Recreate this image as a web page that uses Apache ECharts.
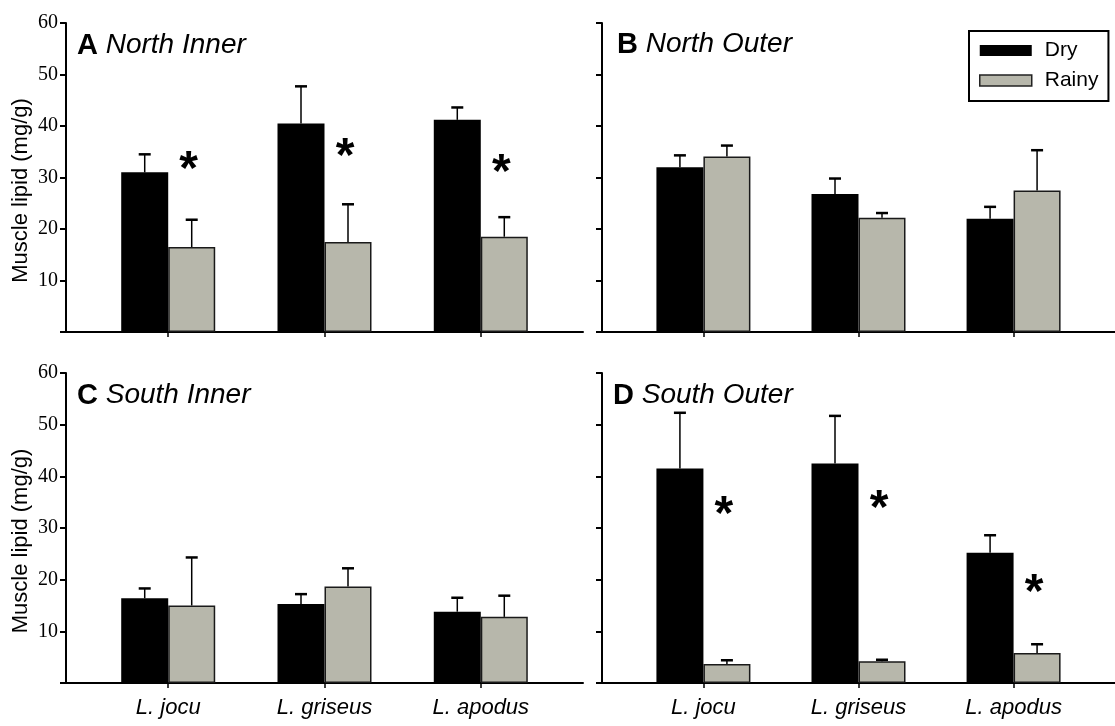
<!DOCTYPE html>
<html>
<head>
<meta charset="utf-8">
<script src="https://cdn.jsdelivr.net/npm/echarts@6/dist/echarts.min.js"></script>
<style>
html,body{margin:0;padding:0;background:#fff;}
#chart{width:1115px;height:726px;}
</style>
</head>
<body>
<div id="chart"></div>
<script>
// ---- data ----
const categories = ['L. jocu', 'L. griseus', 'L. apodus'];
const seriesNames = ['Dry', 'Rainy'];
const panelLetters = ['A', 'B', 'C', 'D'];
const panelNames = ['North Inner', 'North Outer', 'South Inner', 'South Outer'];
const yTicks = [0, 10, 20, 30, 40, 50, 60];
const yAxisName = 'Muscle lipid (mg/g)';

// means and upper standard errors (mg/g)
const dryMeanA = [31.0, 40.5, 41.2];
const dryErrA = [3.5, 7.2, 2.4];
const rainyMeanA = [16.5, 17.5, 18.5];
const rainyErrA = [5.3, 7.3, 3.8];

const dryMeanB = [32.0, 26.8, 22.0];
const dryErrB = [2.3, 3.0, 2.3];
const rainyMeanB = [34.1, 22.2, 27.5];
const rainyErrB = [2.1, 0.9, 7.8];

const dryMeanC = [16.4, 15.3, 13.8];
const dryErrC = [1.9, 1.9, 2.7];
const rainyMeanC = [15.0, 18.7, 12.8];
const rainyErrC = [9.3, 3.5, 4.1];

const dryMeanD = [41.5, 42.5, 25.2];
const dryErrD = [10.8, 9.2, 3.4];
const rainyMeanD = [3.7, 4.2, 5.8];
const rainyErrD = [0.7, 0.3, 1.7];

// significance asterisks: height (mg/g) at which the * is shown, null = none
const starA = [33.4, 35.9, 32.8];
const starB = [null, null, null];
const starC = [null, null, null];
const starD = [34.5, 35.6, 19.4];

// ---- layout / style constants ----
const BAR_W = 47;
const CAP_W = 12;
const X_PAD = 0.654;
const grids = [
  {left: 66, top: 23, width: 517, height: 309},
  {left: 602, top: 23, width: 517, height: 309},
  {left: 66, top: 373, width: 517, height: 310},
  {left: 602, top: 373, width: 517, height: 310}
];
const titlePos = [[77, 31], [617, 30], [77, 381], [613, 381]];
const RAINY_COLOR = '#b7b7ab';

const panels = [
  {dm: dryMeanA, de: dryErrA, rm: rainyMeanA, re: rainyErrA, st: starA},
  {dm: dryMeanB, de: dryErrB, rm: rainyMeanB, re: rainyErrB, st: starB},
  {dm: dryMeanC, de: dryErrC, rm: rainyMeanC, re: rainyErrC, st: starC},
  {dm: dryMeanD, de: dryErrD, rm: rainyMeanD, re: rainyErrD, st: starD}
];
const catIdx = categories.map((c, i) => i);

const chart = echarts.init(document.getElementById('chart'), null, {renderer: 'canvas'});

const xAxes = grids.map((g, i) => ({
  gridIndex: i, type: 'value', min: -X_PAD, max: categories.length - 1 + X_PAD,
  axisLine: {show: true, onZero: false, lineStyle: {color: '#000', width: 2}},
  axisTick: {show: true, length: 5, customValues: catIdx, lineStyle: {color: '#000', width: 1.5}},
  axisLabel: {show: i >= 2, customValues: catIdx, formatter: v => categories[Math.round(v)] || '',
    fontFamily: 'Liberation Sans', fontStyle: 'italic', fontSize: 22, color: '#000', margin: 14},
  splitLine: {show: false}
}));

const yAxes = grids.map((g, i) => ({
  gridIndex: i, type: 'value', min: yTicks[0], max: yTicks[yTicks.length - 1], interval: yTicks[1] - yTicks[0],
  axisLine: {show: true, onZero: false, lineStyle: {color: '#000', width: 2}},
  axisTick: {show: true, length: 6, lineStyle: {color: '#000', width: 2}},
  axisLabel: {show: i % 2 === 0, formatter: v => (v === 0 ? '' : String(v)),
    fontFamily: 'Liberation Serif', fontSize: 20, color: '#000', margin: 8},
  splitLine: {show: false},
  name: i % 2 === 0 ? yAxisName : '',
  nameLocation: 'middle', nameGap: 34,
  nameTextStyle: {fontFamily: 'Liberation Sans', fontSize: 22, color: '#000', padding: [0, 26, 0, 0]}
}));

function errRender(params, api) {
  const x = api.value(0), m = api.value(1), e = api.value(2), side = api.value(3);
  const p0 = api.coord([x, m]);
  const p1 = api.coord([x, m + e]);
  const cx = p0[0] + side * BAR_W / 2;
  return {type: 'group', children: [
    {type: 'line', shape: {x1: cx, y1: p0[1], x2: cx, y2: p1[1]}, style: {stroke: '#000', lineWidth: 1.5}},
    {type: 'line', shape: {x1: cx - CAP_W / 2, y1: p1[1], x2: cx + CAP_W / 2, y2: p1[1]}, style: {stroke: '#000', lineWidth: 2.5}}
  ]};
}
function starRender(params, api) {
  const p = api.coord([api.value(0), api.value(1)]);
  return {type: 'text', x: p[0] + BAR_W / 2 - 3, y: p[1] + 11,
    style: {text: '*', font: 'bold 48px "Liberation Sans"', align: 'center', verticalAlign: 'middle', fill: '#000'}};
}

const series = [];
panels.forEach((p, i) => {
  series.push({
    name: seriesNames[0], type: 'bar', xAxisIndex: i, yAxisIndex: i, barWidth: BAR_W, barGap: '0%',
    itemStyle: {color: '#000'},
    data: categories.map((c, k) => [k, p.dm[k]])
  });
  series.push({
    name: seriesNames[1], type: 'bar', xAxisIndex: i, yAxisIndex: i, barWidth: BAR_W, barGap: '0%',
    itemStyle: {color: RAINY_COLOR, borderColor: '#1a1a1a', borderWidth: 1.5},
    data: categories.map((c, k) => [k, p.rm[k]])
  });
  const errData = [];
  categories.forEach((c, k) => {
    errData.push([k, p.dm[k], p.de[k], -1]);
    errData.push([k, p.rm[k], p.re[k], 1]);
  });
  series.push({
    type: 'custom', xAxisIndex: i, yAxisIndex: i, renderItem: errRender, encode: {x: 0, y: 1},
    data: errData, z: 5, silent: true
  });
  const starData = [];
  categories.forEach((c, k) => { if (p.st[k] != null) starData.push([k, p.st[k]]); });
  if (starData.length) {
    series.push({
      type: 'custom', xAxisIndex: i, yAxisIndex: i, renderItem: starRender, encode: {x: 0, y: 1},
      data: starData, z: 6, silent: true
    });
  }
});

const option = {
  backgroundColor: '#fff',
  animation: false,
  title: panelLetters.map((l, i) => ({
    text: '{b|' + l + '} {i|' + panelNames[i] + '}',
    left: titlePos[i][0], top: titlePos[i][1], padding: 0,
    textStyle: {fontFamily: 'Liberation Sans', fontWeight: 'normal', fontSize: 28, color: '#000',
      rich: {
        b: {fontFamily: 'Liberation Sans', fontWeight: 'bold', fontSize: 29, color: '#000'},
        i: {fontFamily: 'Liberation Sans', fontWeight: 'normal', fontStyle: 'italic', fontSize: 28, color: '#000'}
      }}
  })),
  legend: {
    orient: 'vertical', left: 969, top: 31, padding: [9, 10, 10, 10],
    itemWidth: 52, itemHeight: 11, itemGap: 9,
    borderColor: '#000', borderWidth: 2, borderRadius: 0,
    textStyle: {fontFamily: 'Liberation Sans', fontSize: 21, color: '#000', padding: [0, 0, 0, 8]},
    data: [
      {name: seriesNames[0], icon: 'rect', itemStyle: {color: '#000'}},
      {name: seriesNames[1], icon: 'rect', itemStyle: {color: RAINY_COLOR, borderColor: '#222', borderWidth: 1.5}}
    ]
  },
  grid: grids,
  xAxis: xAxes,
  yAxis: yAxes,
  series: series
};
chart.setOption(option);
</script>
</body>
</html>
